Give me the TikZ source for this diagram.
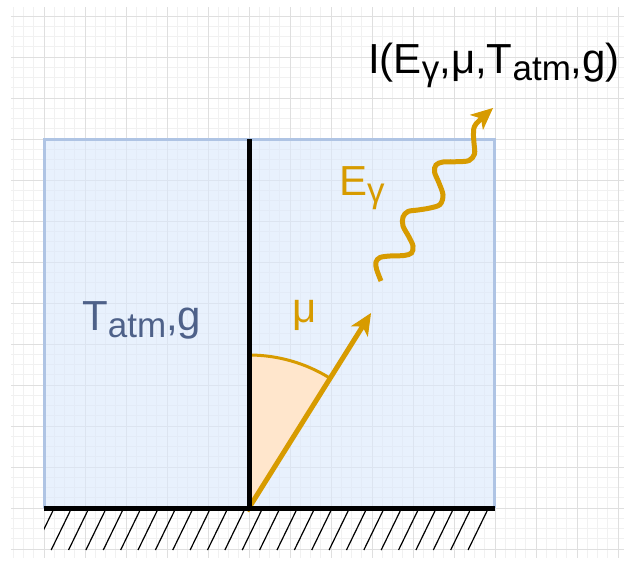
\documentclass[tikz,border=0pt]{standalone}
\usepackage{fontspec}
\setmainfont{Liberation Sans}
\usetikzlibrary{arrows.meta}

\definecolor{gold}{HTML}{D79B00}
\definecolor{wedge}{HTML}{FFE6CC}
\definecolor{boxfill}{HTML}{DAE8FC}
\definecolor{boxline}{HTML}{AFC4E4}
\definecolor{slate}{HTML}{4E6189}
\definecolor{gridminor}{HTML}{F1F1F1}
\definecolor{gridmajor}{HTML}{DFDFDF}

\newcommand{\lowtxt}[1]{\raisebox{-7pt}{\fontsize{35}{40}\selectfont #1}}

\begin{document}
\begin{tikzpicture}[x=1pt, y=-1pt,
  minorgrid/.style={draw=gridminor, line width=0.8pt},
  majorgrid/.style={draw=gridmajor, line width=1pt},
  blackline/.style={draw=black, line width=5pt},
  hatch/.style={draw=black, line width=1.2pt},
  arr/.style={-{Stealth[length=22pt, width=20pt, inset=6pt, line width=1pt]},
    line width=5pt, draw=gold},
  txt/.style={inner sep=0pt, anchor=base west, font=\fontsize{42}{50}\selectfont}
]
  \useasboundingbox[fill=white] (0,0) rectangle (631,562);

  \foreach \i in {-3,...,56}
    \draw[minorgrid] ({44+10.25*\i},7) -- ({44+10.25*\i},558);
  \foreach \j in {0,...,52}
    \draw[minorgrid] (11,{16+10.25*\j}) -- (624,{16+10.25*\j});
  \foreach \i in {0,...,14}
    \draw[majorgrid] ({44+41*\i},7) -- ({44+41*\i},558);
  \foreach \j in {0,...,13}
    \draw[majorgrid] (11,{16+41*\j}) -- (624,{16+41*\j});

  \fill[boxfill, fill opacity=0.6] (44,139) rectangle (494,508);
  \draw[boxline, line width=3pt] (44,508) -- (44,139) -- (494,139) -- (494,508);

  \coordinate (foot) at (249,508);
  \coordinate (mubase) at (247,511);
  \coordinate (mutip) at (371,313);
  \coordinate (wstart) at (381,281);
  \coordinate (wtip) at (493,108);

  \fill[wedge] (foot) -- ++(0,-153) arc[start angle=-90, end angle=-58, radius=153] -- cycle;
  \draw[gold, line width=3pt] (foot) ++(0,-153) arc[start angle=-90, end angle=-58, radius=153];
  \draw[arr] (mubase) -- (mutip);

  \draw[blackline] (249,139) -- (foot);
  \draw[blackline] (44,508) -- (495,508);
  \begin{scope}
    \clip (44,510) rectangle (494,551);
    \foreach \i in {0,...,25}
      \draw[hatch] ({52.8+17.37*\i},511) -- ++(-19,39);
  \end{scope}

  \draw[arr] plot[smooth, tension=0.55] coordinates {(wstart) (376.5,269) (376,262)
    (380,257.5) (390,256) (404,255.5) (411.5,253) (413,246) (409,237) (403,226)
    (403,217) (408,211.5) (418,210) (430,208) (440,204.5) (443,195) (439,183)
    (434.5,172) (436,165) (443,162) (458,161.7) (469,160.5) (474.5,154) (474,143)
    (473.5,133) (476,124) (wtip)};

  \node[txt] (title) at (368,73) {I(E\lowtxt{γ},μ,T\lowtxt{atm},g)};
  \node[txt, text=gold] (energy) at (339,195) {E\lowtxt{γ}};
  \node[txt, text=gold] (angle) at (292,322) {μ};
  \node[txt, text=slate] (params) at (82,330) {T\lowtxt{atm},g};
\end{tikzpicture}
\end{document}
